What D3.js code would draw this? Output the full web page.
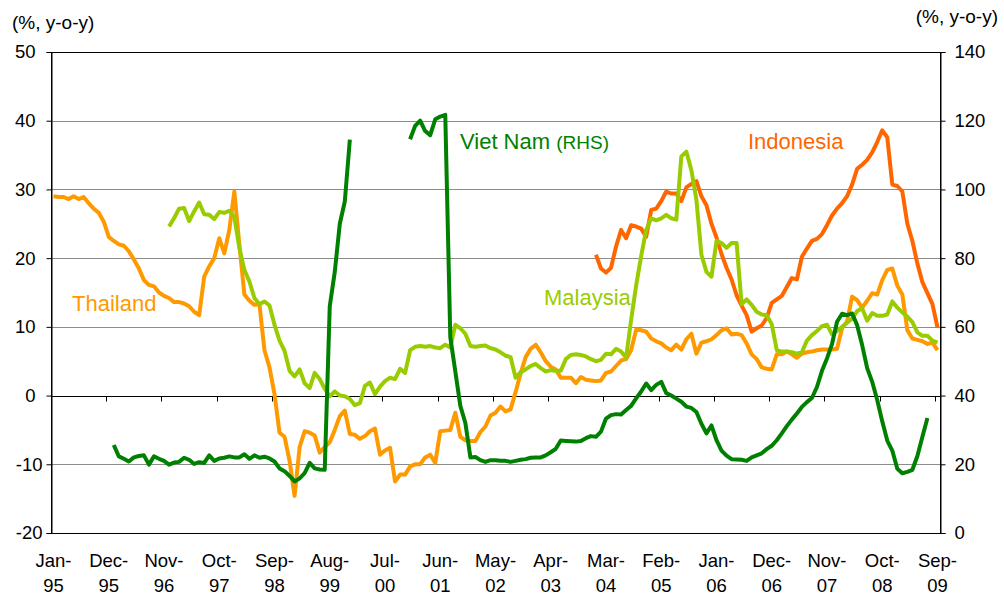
<!DOCTYPE html>
<html>
<head>
<meta charset="utf-8">
<script src="https://cdn.jsdelivr.net/npm/d3@7"></script>
<style>
  html, body { margin: 0; padding: 0; background: #fff; }
  svg { display: block; font-family: "Liberation Sans", Arial, sans-serif; }
</style>
</head>
<body>
<div id="app"></div>
<script>
// DATA
const pad = n => Array(n).fill(null);

// monthly categories, Jan-95 .. Sep-09
const months = d3.timeMonth.range(new Date(1995, 0, 1), new Date(2009, 9, 1)).map(d3.timeFormat('%b-%y'));
const leftTicks = [-20, -10, 0, 10, 20, 30, 40, 50];
const rightTicks = [0, 20, 40, 60, 80, 100, 120, 140];

const thailand = [
  29.0, 28.9, 28.9, 28.6, 29.0, 28.6, 28.9, 28.0, 27.2, 26.6,
  25.3, 23.1, 22.5, 22.0, 21.8, 21.0, 19.8, 18.5, 16.8, 16.1,
  15.9, 15.0, 14.5, 14.2, 13.6, 13.6, 13.4, 13.0, 12.2, 11.7,
  17.3, 18.8, 20.0, 22.9, 20.7, 24.1, 29.7, 22.0, 14.7, 13.8,
  13.2, 13.3, 6.6, 4.1, 0.2, -5.4, -6.0, -9.5, -14.6, -7.5,
  -5.2, -5.4, -5.8, -8.3, -7.5, -6.8, -5.0, -3.0, -2.2, -5.6,
  -5.7, -6.3, -5.9, -5.2, -4.8, -8.6, -8.0, -7.6, -12.5, -11.5,
  -11.5, -10.3, -10.0, -10.0, -9.0, -8.6, -9.8, -5.2, -5.1, -5.0,
  -2.5, -6.0, -6.5, -6.6, -6.6, -5.3, -4.5, -2.9, -2.5, -1.6,
  -2.3, -2.0, 0.5, 3.2, 5.6, 6.8, 7.4, 6.3, 5.0, 4.2,
  3.8, 2.6, 2.6, 2.6, 1.8, 2.7, 2.3, 2.2, 2.1, 2.2,
  3.3, 3.5, 4.3, 5.1, 5.3, 6.6, 9.6, 9.5, 9.3, 8.3,
  7.9, 7.6, 7.0, 6.6, 7.4, 6.7, 8.2, 9.0, 6.1, 7.7,
  7.9, 8.2, 8.8, 9.5, 9.8, 8.9, 9.0, 8.8, 7.6, 6.0,
  5.3, 4.1, 3.9, 3.8, 6.0, 6.0, 6.4, 6.0, 5.5, 6.1,
  6.3, 6.4, 6.6, 6.7, 6.7, 6.7, 6.8, 9.8, 10.8, 14.4,
  13.9, 12.8, 13.8, 14.9, 14.7, 16.8, 18.3, 18.5, 16.0, 14.7,
  9.5, 8.3, 8.1, 7.9, 7.5, 7.7, 6.6
];

const malaysia = [
  ...pad(23),
  24.6, 25.8, 27.2, 27.3, 25.4, 26.8, 28.1,
  26.4, 26.3, 25.7, 26.7, 26.6, 26.9, 26.0, 21.5, 18.3, 16.6,
  14.2, 13.3, 13.7, 13.1, 10.3, 8.0, 6.5, 3.6, 2.8, 3.8,
  1.8, 1.1, 3.3, 2.4, 1.0, -0.1, 0.6, 0.0, -0.1, -0.5,
  -1.4, -1.1, 1.4, 1.9, 0.2, 1.3, 2.1, 2.6, 2.4, 3.9,
  3.3, 6.6, 7.1, 7.2, 7.1, 7.2, 7.0, 6.9, 7.4, 7.0,
  10.3, 9.8, 9.0, 7.2, 7.1, 7.2, 7.3, 6.9, 6.7, 6.3,
  5.8, 5.6, 2.6, 3.4, 3.8, 4.3, 4.6, 4.0, 3.5, 3.7,
  3.6, 3.6, 5.3, 5.9, 6.0, 5.9, 5.7, 5.3, 5.0, 5.2,
  6.1, 6.0, 6.8, 6.4, 5.5, 11.0, 16.0, 20.3, 24.1, 25.8,
  25.5, 25.8, 26.3, 25.8, 25.6, 34.8, 35.5, 32.8, 28.5, 20.5,
  18.0, 17.3, 22.5, 22.2, 21.5, 22.2, 22.2, 13.3, 14.0, 13.2,
  12.2, 11.8, 11.7, 10.4, 6.6, 6.4, 6.4, 6.3, 6.1, 6.3,
  8.0, 8.8, 9.4, 10.1, 10.3, 8.9, 9.4, 10.0, 10.6, 11.2,
  12.3, 12.7, 10.9, 12.0, 11.6, 11.6, 11.8, 13.7, 12.8, 12.1,
  11.5, 10.7, 9.2, 8.7, 8.7, 8.0, 7.7
];

const indonesia = [
  ...pad(108),
  20.5, 18.5,
  17.9, 18.6, 21.7, 24.1, 22.9, 24.8, 24.6, 24.3, 23.1, 27.0,
  27.2, 28.3, 29.7, 29.4, 29.4, 28.3, 30.3, 30.8, 31.2, 29.0,
  27.7, 25.0, 23.0, 20.6, 18.6, 16.9, 14.6, 13.1, 11.7, 9.3,
  9.8, 10.2, 11.3, 13.5, 14.0, 14.5, 15.8, 17.1, 16.9, 20.2,
  21.4, 22.5, 22.8, 23.5, 24.8, 26.2, 27.2, 28.0, 29.0, 30.7,
  33.0, 33.6, 34.3, 35.4, 36.9, 38.6, 37.6, 30.7, 30.5, 29.7,
  25.0, 22.5, 19.2, 16.5, 14.9, 13.3, 9.9
];

// Viet Nam is read against the right-hand axis
const vietnam = [
  ...pad(12),
  25.6, 22.3, 21.6, 20.8, 22.0, 22.4, 22.6, 19.9,
  22.3, 21.6, 21.0, 19.9, 20.5, 20.7, 21.9, 21.3, 20.1, 20.6,
  20.4, 22.6, 21.0, 21.7, 21.9, 22.3, 22.0, 22.0, 22.9, 21.6,
  22.6, 21.9, 22.2, 21.7, 20.8, 18.8, 18.0, 16.6, 15.0, 15.9,
  17.4, 20.4, 18.8, 18.5, 18.4, 66.0, 76.0, 90.0, 96.5, 114.5,
  ...pad(11),
  114.6, 118.5, 120.0, 117.0, 115.8, 120.4, 121.2, 121.7, 57.0,
  47.0, 37.0, 32.0, 22.0, 22.1, 21.2, 20.7, 21.2, 21.2, 21.0,
  21.0, 20.7, 21.0, 21.3, 21.5, 21.9, 22.0, 22.0, 22.6, 23.5,
  24.5, 26.9, 26.8, 26.7, 26.6, 26.8, 27.6, 28.2, 28.0, 29.5,
  33.3, 34.3, 34.6, 34.5, 35.8, 37.0, 39.2, 41.2, 43.5, 41.6,
  43.1, 44.0, 40.7, 40.0, 39.1, 38.2, 36.8, 36.4, 35.2, 31.8,
  29.0, 31.3, 27.0, 24.0, 22.5, 21.5, 21.4, 21.3, 21.0, 22.0,
  22.6, 23.2, 24.4, 25.4, 27.0, 29.0, 31.1, 33.0, 34.8, 36.7,
  38.1, 39.3, 42.5, 47.2, 50.8, 55.0, 61.5, 63.8, 63.4, 63.9,
  60.5, 54.7, 48.0, 44.0, 38.7, 32.5, 26.9, 24.0, 18.7, 17.4,
  17.8, 18.4, 22.4, 28.0, 33.5, null, null
];

const series = [
  { name: 'Indonesia', values: indonesia, colour: '#FF6600', axis: 'left' },
  { name: 'Thailand',  values: thailand,  colour: '#FF9900', axis: 'left' },
  { name: 'Malaysia',  values: malaysia,  colour: '#99CC00', axis: 'left' },
  { name: 'Viet Nam',  values: vietnam,   colour: '#008000', axis: 'right' },
];

// LAYOUT
const W = 1004, H = 597;
const plotLeft = 51, plotRight = 940, plotTop = 52, plotBottom = 533;

const x = d3.scaleBand().domain(months).range([plotLeft, plotRight]).paddingInner(0).paddingOuter(0);
const cx = m => x(m) + x.step() / 2;
const yL = d3.scaleLinear().domain([-20, 50]).range([plotBottom, plotTop]);
const yR = d3.scaleLinear().domain([0, 140]).range([plotBottom, plotTop]);

const $svg = d3.select('#app')
  .append('svg')
  .attr('width', W)
  .attr('height', H);

// gridlines
$svg.append('g')
  .selectAll('line')
  .data(leftTicks.filter(d => d !== -20 && d !== 0 && d !== 50))
  .enter()
    .append('line')
    .attr('x1', plotLeft).attr('x2', plotRight)
    .attr('y1', d => Math.round(yL(d)) + 0.5).attr('y2', d => Math.round(yL(d)) + 0.5)
    .attr('stroke', '#8c8c8c')
    .attr('stroke-width', 1);

// plot frame
$svg.append('rect')
  .attr('x', plotLeft + 0.5).attr('y', plotTop + 0.5)
  .attr('width', plotRight - plotLeft).attr('height', plotBottom - plotTop)
  .attr('fill', 'none')
  .attr('stroke', '#000')
  .attr('stroke-width', 1);

// left axis (plain hyphen for negatives, as in the source)
const $left = $svg.append('g')
  .attr('transform', `translate(${plotLeft + 0.5},0)`)
  .call(d3.axisLeft(yL).tickValues(leftTicks).tickSize(5).tickPadding(0).tickFormat(d => String(d)));
$left.select('.domain').attr('stroke', '#000');
$left.selectAll('text')
  .attr('x', d => d < 0 ? -9 : -16)
  .attr('font-size', 18.5)
  .attr('font-family', '"Liberation Sans", Arial, sans-serif')
  .attr('fill', '#000');

// right axis
const $right = $svg.append('g')
  .attr('transform', `translate(${plotRight + 0.5},0)`)
  .call(d3.axisRight(yR).tickValues(rightTicks).tickSize(5).tickPadding(0));
$right.select('.domain').attr('stroke', '#000');
$right.selectAll('text')
  .attr('x', 14)
  .attr('font-size', 18.5)
  .attr('font-family', '"Liberation Sans", Arial, sans-serif')
  .attr('fill', '#000');

// category axis on the zero line
const labelled = months.filter((m, i) => i % 11 === 0);
const y0 = Math.round(yL(0)) + 0.5;
$svg.append('line')
  .attr('x1', plotLeft).attr('x2', plotRight)
  .attr('y1', y0).attr('y2', y0)
  .attr('stroke', '#000');

$svg.append('g')
  .selectAll('line')
  .data(labelled.slice(1))
  .enter()
    .append('line')
    .attr('x1', d => Math.round(x(d)) + 0.5).attr('x2', d => Math.round(x(d)) + 0.5)
    .attr('y1', y0).attr('y2', y0 + 5)
    .attr('stroke', '#000');

const $xl = $svg.append('g')
  .selectAll('text')
  .data(labelled)
  .enter()
    .append('text')
    .attr('text-anchor', 'middle')
    .attr('font-size', 18.5)
    .attr('fill', '#000');
$xl.append('tspan')
  .attr('x', d => cx(d)).attr('y', 567)
  .text(d => d.split('-')[0] + '-');
$xl.append('tspan')
  .attr('x', d => cx(d)).attr('y', 592)
  .text(d => d.split('-')[1]);

// series
series.forEach(s => {
  const y = s.axis === 'left' ? yL : yR;
  const line = d3.line()
    .defined(d => d != null)
    .x((d, i) => cx(months[i]))
    .y(d => y(d));

  $svg.append('path')
    .datum(s.values)
    .attr('d', line)
    .attr('fill', 'none')
    .attr('stroke', s.colour)
    .attr('stroke-width', 4)
    .attr('stroke-linejoin', 'round');
});

// unit captions
$svg.append('text').attr('x', 12).attr('y', 29)
  .attr('font-size', 19).text('(%, y-o-y)');
$svg.append('text').attr('x', 998).attr('y', 23)
  .attr('text-anchor', 'end')
  .attr('font-size', 19).text('(%, y-o-y)');

// series labels
const labels = [
  { text: 'Thailand',  x: 72,  y: 311, colour: '#FF9900' },
  { text: 'Malaysia',  x: 544, y: 305, colour: '#99CC00' },
  { text: 'Indonesia', x: 748, y: 149, colour: '#FF6600' },
];
$svg.append('g')
  .selectAll('text')
  .data(labels)
  .enter()
    .append('text')
    .attr('x', d => d.x).attr('y', d => d.y)
    .attr('fill', d => d.colour)
    .attr('font-size', 22)
    .text(d => d.text);

const $vn = $svg.append('text').attr('x', 460).attr('y', 149)
  .attr('fill', '#008000').attr('font-size', 22);
$vn.append('tspan').text('Viet Nam ');
$vn.append('tspan').attr('font-size', 19).text('(RHS)');
</script>
</body>
</html>
